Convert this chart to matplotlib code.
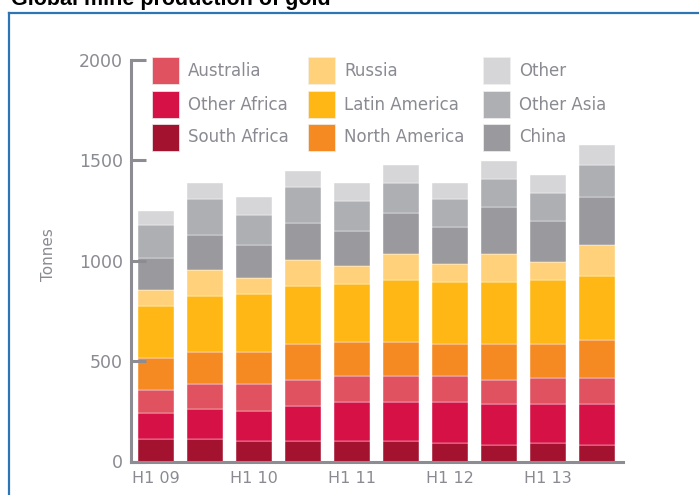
import matplotlib
matplotlib.use("Agg")
import matplotlib.pyplot as plt
from matplotlib.patches import Rectangle
from matplotlib.lines import Line2D
import numpy as np

# half-year periods (H1 09 ... H2 13)
periods = ["H1 09", "H2 09", "H1 10", "H2 10", "H1 11", "H2 11", "H1 12", "H2 12", "H1 13", "H2 13"]
tick_labels = ["H1 09", "", "H1 10", "", "H1 11", "", "H1 12", "", "H1 13", ""]

# tonnes per region, stacked bottom -> top
south_africa = [112, 112, 102, 102, 104, 102, 92, 84, 92, 84]
other_africa = [132, 152, 152, 172, 190, 192, 202, 200, 192, 200]
australia = [110, 120, 130, 130, 130, 130, 130, 120, 130, 130]
north_america = [160, 160, 160, 180, 170, 170, 160, 180, 170, 190]
latin_america = [260, 280, 290, 290, 290, 310, 310, 310, 320, 320]
russia = [80, 130, 80, 132, 92, 132, 92, 142, 92, 152]
china = [162, 172, 162, 180, 170, 200, 180, 230, 200, 240]
other_asia = [160, 180, 150, 180, 150, 150, 140, 140, 140, 160]
other = [70, 80, 90, 80, 90, 90, 80, 90, 90, 100]

series = [
    ("South Africa", south_africa, "#a3132f"),
    ("Other Africa", other_africa, "#d61146"),
    ("Australia", australia, "#e0525f"),
    ("North America", north_america, "#f58a22"),
    ("Latin America", latin_america, "#ffb715"),
    ("Russia", russia, "#ffd17b"),
    ("China", china, "#9a9a9e"),
    ("Other Asia", other_asia, "#aeafb3"),
    ("Other", other, "#d6d6d8"),
]
colors = {name: c for name, _, c in series}

W, H = 699, 495
fig = plt.figure(figsize=(W / 100, H / 100), dpi=100)


def fx(px):
    return px / W


def fy(py):
    return 1 - py / H


grey = "#8c8c92"
text_grey = "#8a8b92"

# axes placed in pixel terms
x_left, x_right = 130.7, 623
y_zero, y_top = 461.5, 60
ax = fig.add_axes([fx(x_left), fy(y_zero), fx(x_right - x_left), (y_zero - y_top) / H])

x = np.arange(len(periods))
bottom = np.zeros(len(periods))
for name, vals, col in series:
    ax.bar(x, vals, width=0.745, bottom=bottom, color=col, edgecolor="#ffffff",
           linewidth=0.3, label=name, zorder=1)
    bottom += np.array(vals)

ax.set_xlim((x_left - 156) / 49, (x_right - 156) / 49)
ax.set_ylim(0, 2000)
ax.set_yticks([0, 500, 1000, 1500, 2000])
ax.set_xticks(x)
ax.set_xticklabels(tick_labels)

for side in ["top", "right"]:
    ax.spines[side].set_visible(False)
for side in ["left", "bottom"]:
    ax.spines[side].set_color(grey)
    ax.spines[side].set_linewidth(2.2)

ax.tick_params(axis="y", direction="in", length=10.8, width=2.2, color=grey,
               labelsize=12.5, labelcolor=text_grey, pad=5.5)
ax.tick_params(axis="x", length=0, labelsize=11.5, labelcolor=text_grey, pad=7)
ax.set_ylabel("Tonnes", fontsize=11, color=text_grey)
ax.yaxis.set_label_coords((55.7 - x_left) / (x_right - x_left), (y_zero - 255) / (y_zero - y_top))

# legend, three columns of squares
legend_cols = [
    (152, ["Australia", "Other Africa", "South Africa"]),
    (308, ["Russia", "Latin America", "North America"]),
    (483, ["Other", "Other Asia", "China"]),
]
row_tops = [57, 91, 124]
for sx, names in legend_cols:
    for top, name in zip(row_tops, names):
        fig.add_artist(Rectangle((fx(sx), fy(top + 27)), fx(27), 27 / H,
                                 transform=fig.transFigure, facecolor=colors[name],
                                 edgecolor="#f0f0f0", linewidth=0.5))
        fig.text(fx(sx + 36), fy(top + 13.5), name, fontsize=12, color=text_grey,
                 va="center", ha="left")

# title (cut at the top edge as in the source) and blue frame
fig.text(fx(11), fy(5), "Global mine production of gold", fontsize=15.5,
         fontweight="bold", family="Liberation Sans", color="black", va="baseline")
fig.add_artist(Line2D([fx(9), 1.0], [fy(12.5), fy(12.5)], transform=fig.transFigure,
                      color="#2e75b6", linewidth=1.6))
fig.add_artist(Line2D([fx(9), fx(9)], [fy(12.5), 0.0], transform=fig.transFigure,
                      color="#2e75b6", linewidth=1.6))

fig.savefig("out.png", dpi=100)
